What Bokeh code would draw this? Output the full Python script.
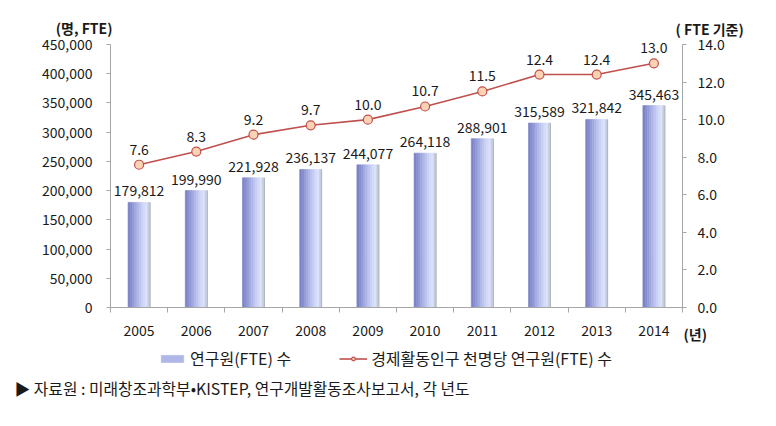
from bokeh.plotting import figure
from bokeh.models import (Range1d, LinearAxis, FixedTicker, NumeralTickFormatter, ColumnDataSource,
                          LabelSet, Label, Legend, LegendItem)
from bokeh.core.properties import value
from bokeh.transform import dodge
from bokeh.embed import file_html
from bokeh.resources import INLINE

years = ["2005", "2006", "2007", "2008", "2009", "2010", "2011", "2012", "2013", "2014"]
researchers = [179812, 199990, 221928, 236137, 244077, 264118, 288901, 315589, 321842, 345463]
per_thousand = [7.6, 8.3, 9.2, 9.7, 10.0, 10.7, 11.5, 12.4, 12.4, 13.0]
left_ticks = [0, 50000, 100000, 150000, 200000, 250000, 300000, 350000, 400000, 450000]
right_ticks = [0, 2, 4, 6, 8, 10, 12, 14]
left_max = 450000
right_max = 14
bar_name = "연구원(FTE) 수"
line_name = "경제활동인구 천명당 연구원(FTE) 수"
left_title = "(명, FTE)"
right_title = "( FTE 기준)"
x_title = "(년)"
source_note = "▶ 자료원 : 미래창조과학부•KISTEP, 연구개발활동조사보고서, 각 년도"

FONT = "Noto Sans CJK KR"
TXT = "#1a1a1a"
AXC = "#a6a6a6"

# page layout (pixels inside the figure)
W, H = 776, 426
PL, PR, PT, PB = 110, 682, 44, 307   # plot-area box: left, right, top, bottom

n_cat = len(years)
xs = list(range(n_cat))
x0, x1 = -0.5, n_cat - 0.5
ux = (PR - PL) / (x1 - x0)
uy = (PB - PT) / left_max
ur = (PB - PT) / right_max

src = ColumnDataSource(dict(
    x=xs, bar=researchers, rate=per_thousand,
    bar_lbl=[f"{v:,}" for v in researchers],
    rate_lbl=[f"{v:.1f}" for v in per_thousand],
))

p = figure(width=W, height=H, output_backend="svg", toolbar_location=None,
           x_range=Range1d(x0 - PL / ux, x1 + (W - PR) / ux),
           y_range=Range1d(-(H - PB) / uy, left_max + PT / uy),
           x_axis_location=None, y_axis_location=None,
           min_border=0, min_border_left=0, min_border_right=0, min_border_top=0, min_border_bottom=0)
p.extra_y_ranges = {"rate": Range1d(-(H - PB) / ur, right_max + PT / ur)}
p.outline_line_color = None
p.xgrid.grid_line_color = None
p.ygrid.grid_line_color = None
p.background_fill_color = "white"
p.border_fill_color = "white"


def style_axis(ax):
    ax.major_label_text_font = FONT
    ax.major_label_text_font_size = "14px"
    ax.major_label_text_color = TXT
    ax.axis_line_color = AXC
    ax.major_tick_line_color = AXC
    ax.minor_tick_line_color = None


# x axis
xa = LinearAxis(fixed_location=0, bounds=(x0, x1),
                ticker=FixedTicker(ticks=xs, minor_ticks=[i - 0.5 for i in range(n_cat + 1)]))
style_axis(xa)
xa.major_label_overrides = {i: y for i, y in enumerate(years)}
xa.major_tick_line_color = None
xa.major_tick_out = 0
xa.major_tick_in = 0
xa.minor_tick_out = 5
xa.minor_tick_in = 0
xa.minor_tick_line_color = AXC
xa.major_label_standoff = 12
p.add_layout(xa, "below")

# left axis
ya = LinearAxis(fixed_location=x0, bounds=(0, left_max), ticker=FixedTicker(ticks=left_ticks),
                formatter=NumeralTickFormatter(format="0,0"))
style_axis(ya)
ya.major_tick_out = 4
ya.major_tick_in = 0
ya.major_label_standoff = 14
p.add_layout(ya, "left")

# right axis
ra = LinearAxis(y_range_name="rate", fixed_location=x1, bounds=(0, right_max),
                ticker=FixedTicker(ticks=right_ticks), formatter=NumeralTickFormatter(format="0.0"))
style_axis(ra)
ra.major_tick_out = 4
ra.major_tick_in = 0
ra.major_label_standoff = 11
p.add_layout(ra, "right")

# gradient bars (slices)
grad = ["#7b83c7", "#868ecf", "#939bd7", "#a1a9df", "#afb7e7", "#bcc4ee", "#c9d0f4",
        "#d4daf8", "#dce1fb", "#c5ccdf"]
bw = 0.385
n = len(grad)
bar_rs = []
for i, c in enumerate(grad):
    off = -bw / 2 + (i + 0.5) * bw / n
    r = p.vbar(x=dodge("x", off), top="bar", width=bw / n, source=src,
               fill_color=c, line_color=c, line_width=0.6)
    bar_rs.append(r)
p.vbar(x=dodge("x", bw / 2), top="bar", width=0.012, source=src,
       fill_color="#9fae9f", line_color=None)

# line
lr = p.line(x="x", y="rate", source=src, y_range_name="rate", line_color="#c0504d", line_width=1.6)
sr = p.scatter(x="x", y="rate", source=src, y_range_name="rate", size=9,
               fill_color="#fcd2b4", line_color="#c0504d", line_width=1.2)

# data labels
p.add_layout(LabelSet(x="x", y="bar", text="bar_lbl", source=src, text_align="center",
                      text_baseline="bottom", y_offset=6, text_font=value(FONT),
                      text_font_size="14px", text_color=TXT))
p.add_layout(LabelSet(x="x", y="rate", text="rate_lbl", source=src, y_range_name="rate",
                      text_align="center", text_baseline="bottom", y_offset=10,
                      text_font=value(FONT), text_font_size="14px", text_color=TXT))

# titles
p.add_layout(Label(x=x0, y=left_max, x_offset=2, y_offset=17, text=left_title, text_align="right",
                   text_baseline="middle", text_font=FONT, text_font_size="14px",
                   text_font_style="bold", text_color=TXT))
p.add_layout(Label(x=x1, y=left_max, x_offset=-7, y_offset=16, text=right_title,
                   text_align="left", text_baseline="middle", text_font=FONT, text_font_size="14px",
                   text_font_style="bold", text_color=TXT))
p.add_layout(Label(x=x1, y=0, x_offset=1, y_offset=-26, text=x_title,
                   text_align="left", text_baseline="middle", text_font=FONT, text_font_size="14px",
                   text_font_style="bold", text_color=TXT))
p.add_layout(Label(x=x0, y=0, x_offset=-96, y_offset=-81, text=source_note,
                   text_align="left", text_baseline="middle", text_font=FONT, text_font_size="15.8px",
                   text_color=TXT))

legend = Legend(items=[LegendItem(label=bar_name, renderers=[bar_rs[4]]),
                       LegendItem(label=line_name, renderers=[lr, sr])],
                location=(158, 56), orientation="horizontal", glyph_width=28, glyph_height=9,
                label_standoff=4, spacing=48, padding=2, margin=0, border_line_color=None,
                background_fill_alpha=0, label_text_font=FONT, label_text_font_size="16px",
                label_text_color=TXT)
p.add_layout(legend, "center")

open("out.html", "w").write(file_html(p, INLINE))
